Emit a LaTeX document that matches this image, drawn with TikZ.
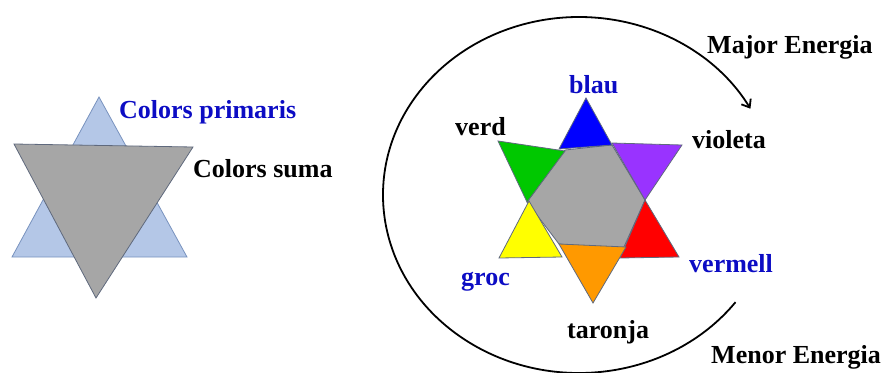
\documentclass[tikz,border=0pt]{standalone}
\usepackage{fontspec}
\setmainfont{Liberation Serif}
\usetikzlibrary{arrows.meta,calc}
\definecolor{txtblue}{RGB}{12,12,196}
\definecolor{lightblue}{RGB}{180,199,231}
\definecolor{lbedge}{RGB}{120,146,190}
\definecolor{grayfill}{RGB}{166,166,166}
\definecolor{edgec}{RGB}{95,105,125}
\definecolor{cblue}{RGB}{0,0,255}
\definecolor{cviolet}{RGB}{153,51,255}
\definecolor{cred}{RGB}{255,0,0}
\definecolor{corange}{RGB}{255,153,0}
\definecolor{cyellow}{RGB}{255,255,0}
\definecolor{cgreen}{RGB}{0,200,0}
\tikzset{
  lbl/.style={font=\fontsize{26}{29}\selectfont\bfseries, anchor=base west, inner sep=0pt},
  blbl/.style={lbl, text=txtblue},
  tri/.style={draw=edgec, line width=0.8pt},
}
\begin{document}
\begin{tikzpicture}[x=1pt,y=-1pt]
\useasboundingbox (0,0) rectangle (883,372);
% left star
\filldraw[fill=lightblue, draw=lbedge, line width=0.8pt] (99,97) -- (12,257) -- (187,257) -- cycle;
\filldraw[tri, fill=grayfill] (14,144) -- (193,147) -- (96,298) -- cycle;
\node[blbl] (prim) at (119,118) {Colors primaris};
\node[lbl] (suma) at (193,177) {Colors suma};
% right star
\filldraw[tri, fill=grayfill] (565,150) -- (612,145) -- (645,200) -- (623,249) -- (559,244) -- (527,202) -- cycle;
\filldraw[tri, fill=cblue] (586,98) -- (559,149) -- (612,145) -- cycle;
\filldraw[tri, fill=cviolet] (612,143) -- (682,145) -- (645,200) -- cycle;
\filldraw[tri, fill=cred] (645,200) -- (679,257) -- (620,258) -- cycle;
\filldraw[tri, fill=cyellow] (529,201) -- (499,258) -- (562,257) -- cycle;
\filldraw[tri, fill=cgreen] (498,141) -- (565,151) -- (527,202) -- cycle;
\filldraw[tri, fill=corange] (559,244) -- (626,247) -- (593,303) -- cycle;
% labels
\node[blbl] (blau) at (569,93) {blau};
\node[lbl] (verd) at (455,135) {verd};
\node[lbl] (viol) at (692,148) {violeta};
\node[blbl] (verm) at (689,272) {vermell};
\node[blbl] (groc) at (461,285) {groc};
\node[lbl] (taro) at (567,338) {taronja};
\node[lbl] (major) at (707,53) {Major Energia};
\node[lbl] (menor) at (711,363) {Menor Energia};
% arc with arrow
\coordinate (c) at (579,195);
\coordinate (s) at ($(c)+(37:196 and 178)$);
\draw[line width=1.8pt, -{Straight Barb[length=7pt,width=11pt]}] (s) arc[start angle=37, end angle=331, x radius=196, y radius=178];
\end{tikzpicture}
\end{document}
